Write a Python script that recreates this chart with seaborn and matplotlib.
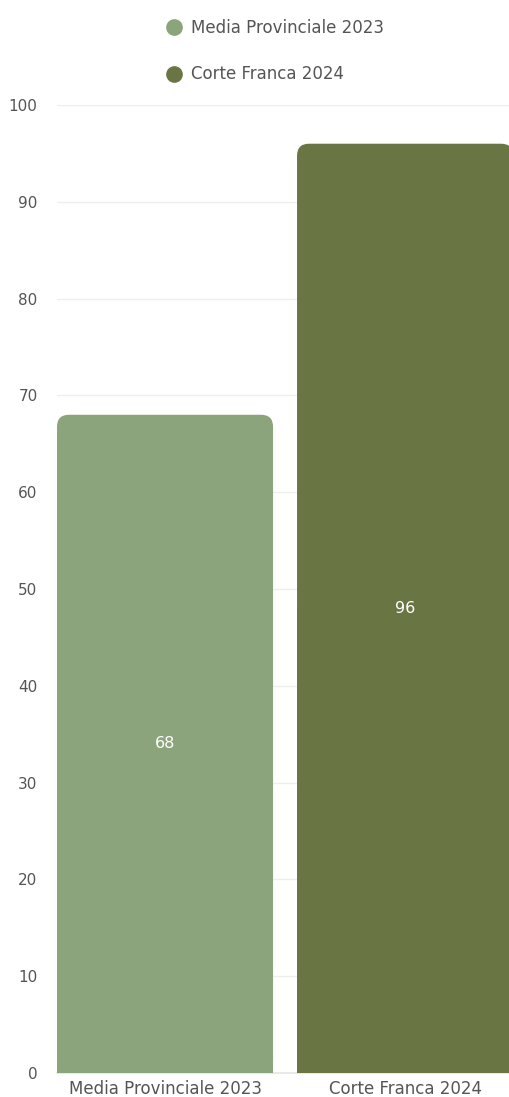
import matplotlib
matplotlib.use("Agg")
import matplotlib.pyplot as plt
from matplotlib.patches import FancyBboxPatch, Rectangle
from matplotlib.lines import Line2D
import seaborn as sns
import pandas as pd

categories = ["Media Provinciale 2023", "Corte Franca 2024"]
values = [68, 96]
colors = ["#8ba47b", "#6a7544"]
yticks = list(range(0, 101, 10))

sns.set_theme(style="white")
plt.rcParams['font.family'] = ['DejaVu Sans']

df = pd.DataFrame({"cat": categories, "val": values})

fig = plt.figure(figsize=(5.09, 10.97), dpi=100)
ax = fig.add_axes([57 / 509, 24 / 1097, 452 / 509, 968 / 1097])

sns.barplot(data=df, x="cat", y="val", hue="cat", palette=colors, width=0.9,
            legend=False, ax=ax, saturation=1)

ax.set_xlim(-0.45, 1.433)
ax.set_ylim(0, 100)

# replace bars with top-rounded versions
px_x = 452 / (1.433 + 0.45)
px_y = 968 / 100
for patch, col, v in zip(list(ax.patches), colors, values):
    x0, w, h = patch.get_x(), patch.get_width(), patch.get_height()
    patch.set_visible(False)
    r = 12 / px_x
    rb = FancyBboxPatch((x0, 0), w, h, boxstyle=f"round,pad=0,rounding_size={r}",
                        mutation_aspect=px_x / px_y, fc=col, ec="none", zorder=3)
    ax.add_patch(rb)
    ax.add_patch(Rectangle((x0, 0), w, h / 2, fc=col, ec="none", zorder=3))
    ax.text(x0 + w / 2, h / 2, str(v), ha="center", va="center", color="white",
            fontsize=11.5, zorder=4)

ax.set_yticks(yticks)
ax.set_yticklabels([str(t) for t in yticks])
ax.yaxis.grid(True, color="#eeeeee", linewidth=1)
ax.set_axisbelow(True)
for s in ["top", "right", "left"]:
    ax.spines[s].set_visible(False)
ax.spines["bottom"].set_color("#e6e6e6")
ax.tick_params(axis="y", length=0, pad=14, labelsize=11, labelcolor="#555555")
ax.tick_params(axis="x", length=0, pad=5, labelsize=12, labelcolor="#555555")
ax.set_xlabel("")
ax.set_ylabel("")

handles = [Line2D([], [], marker="o", linestyle="none", markersize=11,
                  markerfacecolor=c, markeredgecolor=c) for c in colors]
fig.legend(handles, categories, loc="upper left", bbox_to_anchor=(166 / 509, 1 - 19 / 1097),
           ncol=1, frameon=False, fontsize=12, labelcolor="#555555",
           handlelength=1.0, handletextpad=0.5, labelspacing=1.7, borderaxespad=0,
           borderpad=0)

fig.savefig("out.png", dpi=100)
